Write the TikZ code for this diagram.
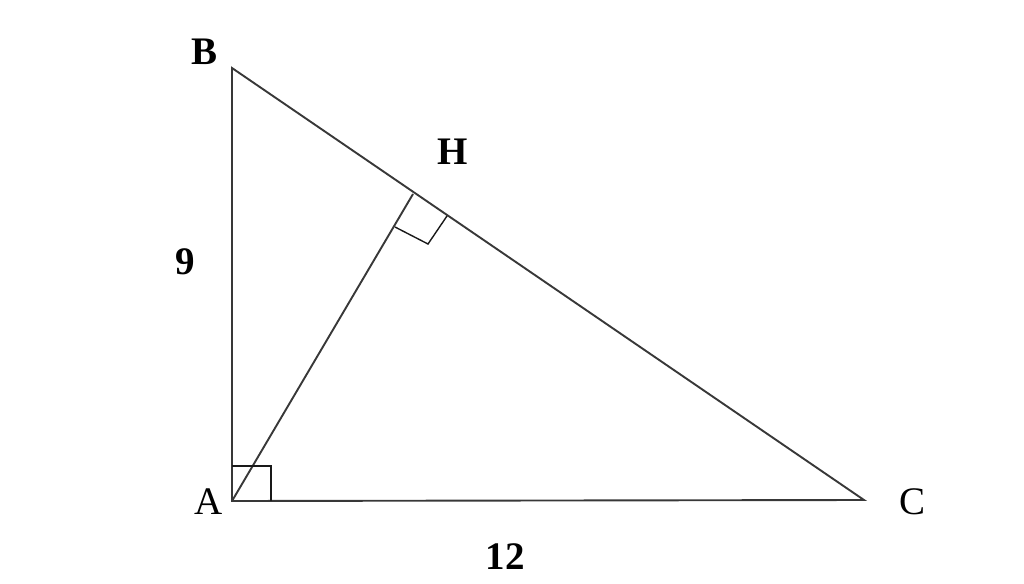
\documentclass[tikz,border=0pt]{standalone}
\usepackage{fontspec}
\setmainfont{Liberation Serif}
\begin{document}
\begin{tikzpicture}[x=1pt,y=-1pt,
  edge/.style={draw=black!78,line width=1.9pt},
  rmark/.style={draw=black!90,line width=1.4pt},
  lab/.style={font=\fontsize{39}{39}\selectfont\bfseries,inner sep=0pt},
  labr/.style={font=\fontsize{39}{39}\selectfont,inner sep=0pt}]
\useasboundingbox (0,0) rectangle (1024,583);
\coordinate (A) at (232,501);
\coordinate (B) at (232,68);
\coordinate (C) at (864,500);
\coordinate (H) at (413,194);
\coordinate (h1) at (395,227);
\coordinate (h2) at (428,244);
\coordinate (h3) at (447,216);
\coordinate (a1) at (232,466);
\coordinate (a2) at (271,466);
\coordinate (a3) at (271,501);
\draw[edge] (A) -- (B) -- (C) -- cycle;
\draw[edge] (A) -- (H);
\draw[rmark] (h1) -- (h2) -- (h3);
\draw[rmark] (a1) -- (a2) -- (a3);
\node[lab] (lB) at (205,52) {B};
\node[lab] (lH) at (453,152) {H};
\node[labr] (lA) at (209,502) {A};
\node[labr] (lC) at (912,502) {C};
\node[lab] (l9) at (185,262) {9};
\node[lab] (l12) at (505,557) {12};
\end{tikzpicture}
\end{document}
